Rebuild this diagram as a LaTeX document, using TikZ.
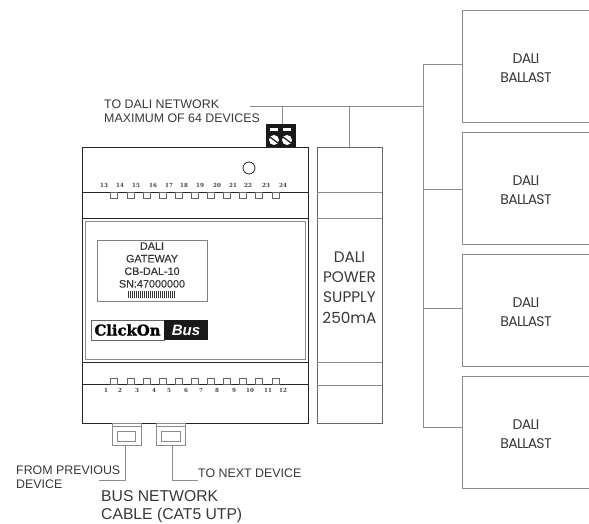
\documentclass[tikz,border=0pt]{standalone}
\usepackage{fontspec}
\setmainfont{Liberation Sans}
\newfontfamily\roundfont{Poppins}
\newfontfamily\tightfont[LetterSpace=-5]{Poppins}
\newfontfamily\pinfont{DejaVu Serif}
\newfontfamily\logofont[FakeBold=1.6]{DejaVu Serif}
\newfontfamily\platefont[FakeBold=0.4]{Liberation Sans}
\usetikzlibrary{positioning}
\definecolor{wiregray}{gray}{0.55}
\definecolor{textgray}{gray}{0.22}
\tikzset{
    unitbox/.style={rectangle, draw=black!85, line width=1pt, inner sep=0pt},
    greybox/.style={rectangle, draw=wiregray, line width=0.8pt, inner sep=0pt},
    ballast/.style={greybox, minimum width=128, minimum height=112},
    ballasttext/.style={inner sep=0pt, align=center, font=\tightfont\fontsize{14}{19}\selectfont, text=textgray},
    wire/.style={draw=wiregray, line width=0.7pt},
    pin/.style={inner sep=0pt, font=\pinfont\bfseries\fontsize{5.6}{6}\selectfont, text=black!75},
    slot/.style={rectangle, draw=black!60, line width=0.5pt, minimum width=7, minimum height=6, inner sep=0pt},
    caption/.style={inner sep=0pt, anchor=west, align=left, text=textgray, font=\fontsize{12.4}{14}\selectfont},
    plate/.style={inner sep=0pt, text=textgray, font=\platefont\fontsize{10.8}{12.6}\selectfont, align=center}
}
\begin{document}
\begin{tikzpicture}[x=1pt, y=-1pt]
    \useasboundingbox (0,0) rectangle (589,523);

    % gateway
    \node[unitbox, minimum width=226, minimum height=276] (gateway) at (195,285) {};
    \node[greybox, minimum width=220, minimum height=138] (front) at (195,290) {};
    \foreach \ypos in {192,218,362,384}
        \draw[draw=black!85, line width=1pt] (gateway.west |- 0,\ypos) -- (gateway.east |- 0,\ypos);
    \node[circle, draw=black!85, line width=0.8pt, minimum size=12, inner sep=0pt] (led) at (249,168) {};

    % terminals
    \foreach \xpos/\num in {104/13,120/14,136/15,153/16,169/17,184/18,200/19,217/20,233/21,248/22,266/23,283/24}
        \node[pin] (pin\num) at (\xpos,185) {\num};
    \foreach \xpos/\num in {106/1,120/2,137/3,154/4,169/5,186/6,201/7,217/8,234/9,250/10,268/11,283/12}
        \node[pin] (pin\num) at (\xpos,390) {\num};
    \foreach \xpos in {114,131,147,163,179,195,211,227,243,259,276} {
        \node[slot] at (\xpos,195) {};
        \node[slot] at (\xpos,381) {};
    }

    % label
    \node[greybox, minimum width=110, minimum height=61, draw=black!50] (label) at (152,270.5) {};
    \node[plate] (labeltext) at (152,265) {DALI\\GATEWAY\\CB-DAL-10\\SN:47000000};
    \foreach \i in {0,...,23}
        \fill[black!80] ({128+2*\i},291) rectangle ++(1.1,7);

    % logo
    \node[greybox, draw=black!60, minimum width=73, minimum height=20, font=\logofont\bfseries\fontsize{14.8}{15}\selectfont, text=black] (logoleft) at (127.5,330) {ClickOn};
    \node[rectangle, fill=black!90, minimum width=44, minimum height=20, inner sep=0pt, text=white, font=\bfseries\itshape\fontsize{15}{16}\selectfont] (logoright) at (186,330) {Bus};

    % screw block
    \node[rectangle, fill=black!90, minimum width=30, minimum height=23, inner sep=0pt] (block) at (281,135.5) {};
    \foreach \xpos in {274,287} {
        \fill[white] (\xpos-4,128) rectangle (\xpos+4,131);
        \fill[white] (\xpos,140) circle (5);
        \draw[black!90, line width=1.2pt] (\xpos-4,137) -- (\xpos+4,143);
    }

    % power supply
    \node[greybox, draw=black!60, minimum width=65, minimum height=276] (psu) at (349.5,285) {};
    \node[ballasttext, font=\roundfont\fontsize{15.3}{20.3}\selectfont] (psutext) at (349.5,287.5) {DALI\\POWER\\SUPPLY\\250mA};
    \foreach \ypos in {192,218,362,385}
        \draw[wire] (psu.west |- 0,\ypos) -- (psu.east |- 0,\ypos);

    % ballasts
    \node[ballast] (ballast1) at (526,66) {};
    \node[ballast] (ballast2) at (526,188) {};
    \node[ballast] (ballast3) at (526,310) {};
    \node[ballast] (ballast4) at (526,432) {};
    \node[ballasttext] (ballasttext1) at (526,68.5) {DALI\\BALLAST};
    \node[ballasttext] (ballasttext2) at (526,190.5) {DALI\\BALLAST};
    \node[ballasttext] (ballasttext3) at (526,312.5) {DALI\\BALLAST};
    \node[ballasttext] (ballasttext4) at (526,434.5) {DALI\\BALLAST};

    % dali network
    \coordinate (netstart) at (250,106);
    \coordinate (netblock) at (282,106);
    \coordinate (netpsu) at (349,106);
    \coordinate (netbus) at (423,106);
    \coordinate (bus1) at (423,64);
    \coordinate (bus2) at (423,189.5);
    \coordinate (bus3) at (423,308);
    \coordinate (bus4) at (423,427);
    \draw[wire] (netstart) -- (netbus);
    \draw[wire] (netblock) -- (netblock |- block.north);
    \draw[wire] (netpsu) -- (netpsu |- psu.north);
    \draw[wire] (bus1) -- (bus4);
    \draw[wire] (bus1) -- (bus1 -| ballast1.west);
    \draw[wire] (bus2) -- (bus2 -| ballast2.west);
    \draw[wire] (bus3) -- (bus3 -| ballast3.west);
    \draw[wire] (bus4) -- (bus4 -| ballast4.west);

    % bus sockets
    \node[greybox, minimum width=29, minimum height=22] (sockin) at (126.5,434) {};
    \node[greybox, minimum width=29, minimum height=22] (sockout) at (170.5,434) {};
    \node[greybox, minimum width=18, minimum height=10] (holein) at (126,436) {};
    \node[greybox, minimum width=19, minimum height=10] (holeout) at (170.5,436) {};
    \draw[wire] (sockin.west |- 0,426) -- (sockin.east |- 0,426);
    \draw[wire] (sockout.west |- 0,426) -- (sockout.east |- 0,426);
    \coordinate (inbend) at (125,480);
    \coordinate (inend) at (99,480);
    \coordinate (outbend) at (172,480);
    \draw[wire] (sockin.south -| inbend) -- (inbend) -- (inend);

    % captions
    \node[caption] (tonet) at (104,111) {TO DALI NETWORK\\MAXIMUM OF 64 DEVICES};
    \node[caption] (fromprev) at (16,477) {FROM PREVIOUS\\DEVICE};
    \node[caption] (tonext) at (198,473) {TO NEXT DEVICE};
    \node[caption, font=\fontsize{15.7}{18}\selectfont] (buscable) at (101,507) {BUS NETWORK\\CABLE (CAT5 UTP)};
    \draw[wire] (sockout.south -| outbend) -- (outbend) -- (outbend -| tonext.west);
\end{tikzpicture}
\end{document}
